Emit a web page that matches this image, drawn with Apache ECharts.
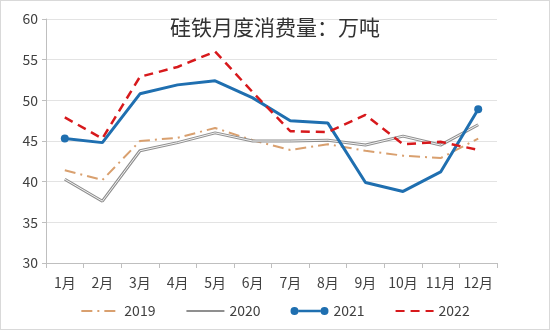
<!DOCTYPE html>
<html><head><meta charset="utf-8">
<script src="https://cdn.jsdelivr.net/npm/echarts@6/dist/echarts.min.js"></script>
<style>html,body{margin:0;padding:0;background:#fff}#c{width:548px;height:328px;border:1px solid #d9d9d9}</style>
</head><body><div id="c"></div>
<script>
const months = ['1月','2月','3月','4月','5月','6月','7月','8月','9月','10月','11月','12月'];
const s2019 = [41.4,40.2,45.0,45.4,46.6,45.1,43.9,44.6,43.8,43.2,42.9,45.3];
const s2020 = [40.3,37.6,43.8,44.8,46.0,45.0,45.0,45.1,44.5,45.6,44.5,47.0];
const s2021 = [45.3,44.8,50.8,51.9,52.4,50.3,47.5,47.2,39.9,38.8,41.2,48.9];
const s2022 = [47.9,45.3,52.9,54.1,56.0,51.0,46.2,46.1,48.2,44.6,44.9,43.9];
const yTicks = {min:30,max:60,interval:5};

const chart = echarts.init(document.getElementById('c'));
const txt = {fontFamily:'"Noto Sans CJK SC","Noto Sans",sans-serif',color:'#404040',fontSize:14};
const hideSym = {opacity:0};
const icon2021 = 'path://M0,4a4,4 0 1,0 8,0a4,4 0 1,0 -8,0Z M8,2.8h22v2.4h-22Z M30,4a4,4 0 1,0 8,0a4,4 0 1,0 -8,0Z';
chart.setOption({
  animation:false,
  title:{text:'硅铁月度消费量：万吨',left:'center',top:11,textStyle:{fontFamily:txt.fontFamily,fontSize:21,fontWeight:'normal',color:'#333'}},
  grid:{left:45,right:52,top:18,bottom:66},
  legend:{bottom:6,left:'center',itemWidth:38,itemHeight:8,itemGap:30,textStyle:txt,
    data:[{name:'2019',itemStyle:hideSym},{name:'2020',itemStyle:hideSym},{name:'2021',icon:icon2021},{name:'2022',itemStyle:hideSym}]},
  xAxis:{type:'category',data:months,boundaryGap:true,
    axisLine:{lineStyle:{color:'#bfbfbf'}},axisTick:{show:true,length:5,lineStyle:{color:'#bfbfbf'}},
    axisLabel:Object.assign({margin:13,interval:0},txt)},
  yAxis:{type:'value',min:yTicks.min,max:yTicks.max,interval:yTicks.interval,
    axisLine:{show:true,lineStyle:{color:'#bfbfbf'}},axisTick:{show:true,length:4,lineStyle:{color:'#bfbfbf'}},
    splitLine:{lineStyle:{color:'#e3e3e3'}},axisLabel:Object.assign({margin:8},txt)},
  series:[
    {name:'2019',type:'line',data:s2019,symbol:'none',itemStyle:{color:'#D9A06F'},
      lineStyle:{color:'#D9A06F',width:2,type:[11,5,2,5]}},
    {name:'2020',type:'line',data:s2020,symbol:'none',itemStyle:{color:'#8f8f8f'},
      lineStyle:{color:'#8f8f8f',width:3}},
    {name:'2020w',type:'line',data:s2020,symbol:'none',silent:true,
      lineStyle:{color:'#f4f4f4',width:1}},
    {name:'2021',type:'line',data:s2021,symbol:'circle',showAllSymbol:true,
      symbolSize:function(v,p){return (p.dataIndex===0||p.dataIndex===s2021.length-1)?8:0;},
      itemStyle:{color:'#1F6FB0'},lineStyle:{color:'#1F6FB0',width:3}},
    {name:'2022',type:'line',data:s2022,symbol:'none',itemStyle:{color:'#D7191C'},
      lineStyle:{color:'#D7191C',width:2.5,type:[9,6]}}
  ]
});
</script></body></html>
